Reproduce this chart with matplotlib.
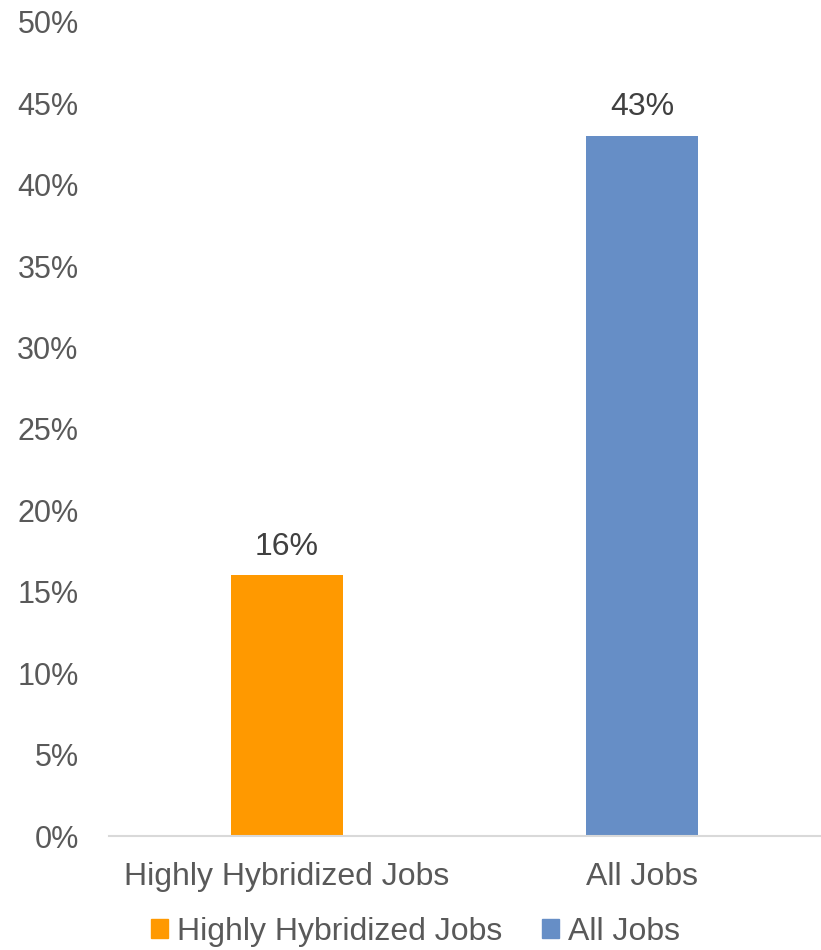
import matplotlib

matplotlib.use("Agg")
import matplotlib.pyplot as plt  # noqa: E402
from matplotlib.patches import Patch  # noqa: E402
from matplotlib.ticker import FuncFormatter, MultipleLocator  # noqa: E402

categories = ["Highly Hybridized Jobs", "All Jobs"]
values = [16, 43]
colors = ["#ff9900", "#668ec6"]
y_max = 50

plt.rcParams["font.family"] = ["Liberation Sans", "DejaVu Sans"]

fig = plt.figure(figsize=(8.21, 9.5), dpi=100)
ax = fig.add_axes([0.133, 0.12, 0.866, 0.857])

x = range(len(categories))
bars = ax.bar(x, values, width=0.315, color=colors)
for b, v in zip(bars, values):
    ax.annotate(f"{v}%", (b.get_x() + b.get_width() / 2, v), xytext=(0, 10),
                textcoords="offset points", ha="center", va="bottom",
                fontsize=23, color="#404040")

ax.set_xlim(-0.5, len(categories) - 0.5)
ax.set_ylim(0, y_max)
ax.yaxis.set_major_locator(MultipleLocator(5))
ax.yaxis.set_major_formatter(FuncFormatter(lambda v, _: f"{v:.0f}%"))
ax.set_xticks(list(x))
ax.set_xticklabels(categories)
ax.tick_params(axis="y", length=0, pad=22, labelsize=22, labelcolor="#595959")
ax.tick_params(axis="x", length=0, pad=19, labelsize=23, labelcolor="#595959")

for side in ("top", "right", "left"):
    ax.spines[side].set_visible(False)
ax.spines["bottom"].set_color("#d9d9d9")
ax.spines["bottom"].set_linewidth(1.5)

handles = [Patch(color=c, label=l) for c, l in zip(colors, categories)]
fig.legend(handles=handles, loc="center", bbox_to_anchor=(0.506, 0.019), ncol=2,
           frameon=False, fontsize=23, labelcolor="#595959",
           handlelength=0.52, handleheight=0.52, handletextpad=0.28,
           columnspacing=1.25, borderaxespad=0, borderpad=0)

fig.savefig("out.png", dpi=100)
